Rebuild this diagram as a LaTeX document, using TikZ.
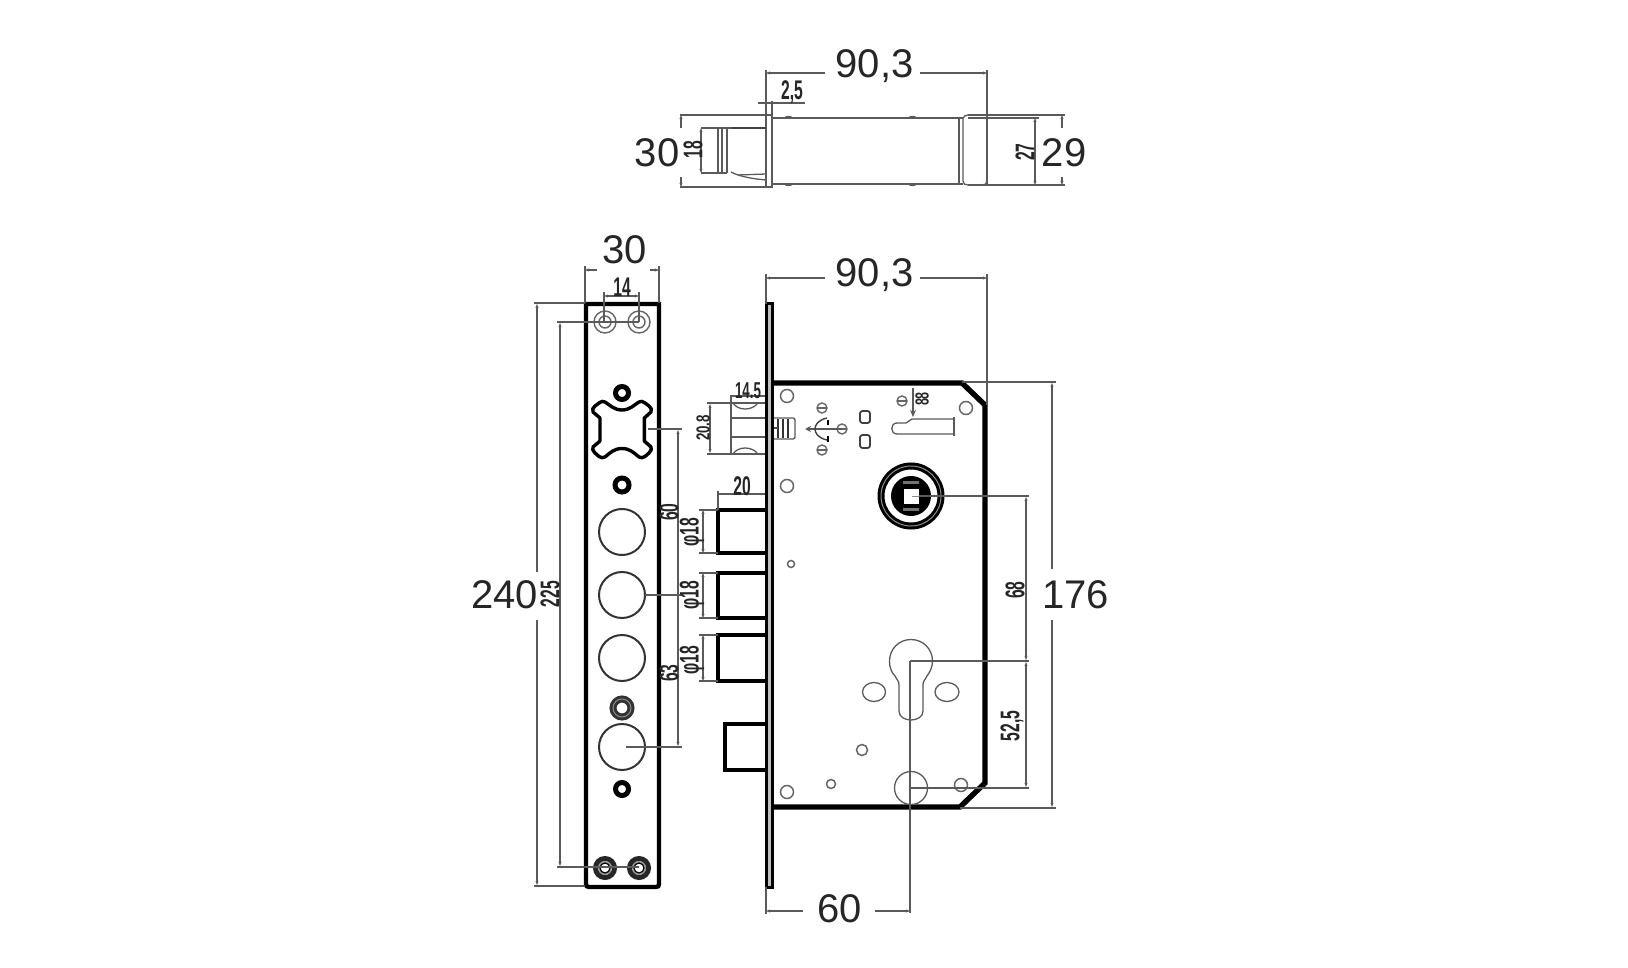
\documentclass[tikz,border=0pt]{standalone}
\usepackage{graphicx}
\usepackage{fontspec}
\setmainfont{Liberation Sans}
\usetikzlibrary{arrows.meta}
\newcommand{\condtxt}[1]{\scalebox{0.58}[1]{\fontsize{27}{27}\selectfont\bfseries #1}}
\definecolor{dimgrey}{HTML}{5A5A5A}
\tikzset{
  x=1pt,y=-1pt,
  dimline/.style={draw=dimgrey,line width=1.1pt},
  tipped/.style={dimline,{Stealth[length=4pt,width=3pt]}-{Stealth[length=4pt,width=3pt]}},
  tipstart/.style={dimline,{Stealth[length=4pt,width=3pt]}-},
  tipend/.style={dimline,-{Stealth[length=4pt,width=3pt]}},
  thin part/.style={draw=dimgrey,line width=1.3pt},
  heavy/.style={draw=black,line width=4.3pt,line join=miter},
  big/.style={inner sep=0pt,font=\fontsize{40}{40}\selectfont,text=black!85},
  small/.style={inner sep=0pt,text=black!85},
  upright small/.style={small,rotate=90},
  knob/.style={draw=black,line width=5pt},
  holecirc/.style={draw=black!80,line width=2pt}
}
\begin{document}
\begin{tikzpicture}
\useasboundingbox[fill=white] (0,0) rectangle (1628,968);

% ---------- top view ----------
\draw[thin part,line width=1.6pt] (766,115) rectangle (772,187);
\draw[thin part] (772,118) -- (963,118) (772,184) -- (963,184);
\draw[thin part] (784,118) .. controls (787,116) and (790,116) .. (793,118);
\draw[thin part] (908,118) .. controls (911,116) and (914,116) .. (917,118);
\draw[thin part] (784,184) .. controls (787,186) and (790,186) .. (793,184);
\draw[thin part] (908,184) .. controls (911,186) and (914,186) .. (917,184);
\draw[thin part] (959,118) -- (959,184);
\draw[thin part] (963,118) -- (963,181) .. controls (963,184) and (965,185) .. (968,185) -- (982,185) .. controls (985,185) and (987,184) .. (987,181);
\draw[thin part] (963,118) .. controls (964,116) and (966,115) .. (968,115);
\draw[dimline] (968,115) -- (1065,115);
\draw[dimline] (968,118) -- (1039,118);
\draw[dimline] (968,185) -- (1065,185);
% bolt
\draw[thin part] (701,128) -- (766,128);
\draw[draw=black!75,line width=2pt] (732,128) -- (766,128);
\draw[thin part] (701,173) -- (727,173);
\draw[thin part] (718,128) -- (718,173) (722,128) -- (722,173) (727,128) -- (727,173);
\draw[thin part] (731,172) .. controls (740,177) and (755,179) .. (766,180);
\draw[thin part] (738,175) -- (766,174);
% top view dimensions
\draw[tipstart] (766,73) -- (825,73);
\draw[tipend] (920,73) -- (987,73);
\draw[dimline] (766,70) -- (766,118);
\draw[dimline] (987,70) -- (987,185);
\draw[dimline] (758,103) -- (805,103);
\draw[dimline] (772,101) -- (772,118);
\draw[dimline] (680,115) -- (766,115);
\draw[dimline] (680,187) -- (766,187);
\draw[tipstart] (681,115) -- (681,128);
\draw[tipstart] (681,187) -- (681,177);
\draw[tipped] (701,128) -- (701,173);
\draw[tipped] (1035,118) -- (1035,185);
\draw[tipstart] (1062,115) -- (1062,128);
\draw[tipstart] (1062,185) -- (1062,177);
\node[big] (t903a) at (874.5,66.5) {90,3};
\node[small] (t25) at (792,92) {\condtxt{2,5}};
\node[big] (t30a) at (657,153) {30};
\node[big] (t29) at (1064,153) {29};
\node[upright small] (t18) at (693,150) {\condtxt{18}};
\node[upright small] (t27) at (1025,152) {\condtxt{27}};

% ---------- front plate ----------
\draw[heavy] (586,304) -- (659,304) -- (659,884) .. controls (659,886) and (658,887) .. (656,887) -- (589,887) .. controls (587,887) and (586,886) .. (586,884) -- cycle;
% screws top
\foreach \sx in {605,639}{
  \draw[draw=black!60,line width=1.4pt] (\sx,322) circle[radius=11];
  \draw[draw=black!60,line width=1.4pt] (\sx,322) circle[radius=6];
  \draw[draw=black!85,line width=5pt] (\sx,868) circle[radius=9.5];
  \fill[black!40] (\sx,868) circle[radius=7];
  \draw[draw=black,line width=1.2pt,fill=white] (\sx,868) circle[radius=5];
}
% knobs
\draw[knob] (622,393) circle[radius=6.5];
\draw[knob] (622,485) circle[radius=7];
\draw[draw=black!80,line width=7pt] (622,708) circle[radius=9];
\draw[draw=black!45,line width=1pt] (622,708) circle[radius=9];
\draw[knob] (622,789) circle[radius=6.5];
% large holes
\foreach \cy in {532,595,658,747}{\draw[holecirc] (622,\cy) circle[radius=23];}
% spindle hole
\draw[draw=black,line width=3.4pt,line join=round]
 (593,412) .. controls (592,409) and (593,408) .. (595,406)
 -- (599,403) .. controls (601,401) and (603,401) .. (605,402)
 .. controls (610,405) and (614,410) .. (622,410)
 .. controls (630,410) and (634,405) .. (639,402)
 .. controls (641,401) and (643,401) .. (645,403)
 -- (649,406) .. controls (651,408) and (652,409) .. (651,412)
 -- (644.3,418) -- (644.3,441)
 -- (651,447) .. controls (652,449) and (651,451) .. (649,453)
 -- (645,456.5) .. controls (643,458) and (641,458) .. (639,457)
 .. controls (634,453) and (630,448.5) .. (622,448.5)
 .. controls (614,448.5) and (610,453) .. (605,457)
 .. controls (603,458) and (601,458) .. (599,456.5)
 -- (595,453) .. controls (593,451) and (592,449) .. (593,447)
 -- (600,441) -- (600,418) -- cycle;
% front plate dimensions
\draw[dimline] (585,266) -- (585,303) (659,266) -- (659,303);
\draw[tipstart] (585,270) -- (597,270);
\draw[tipstart] (659,270) -- (650,270);
\draw[tipped] (604,296) -- (639,296);
\draw[dimline] (604,292) -- (604,322) (639,292) -- (639,322);
\draw[dimline] (534,303) -- (585,303);
\draw[dimline] (557,322) -- (639,322);
\draw[dimline] (534,886) -- (585,886);
\draw[dimline] (557,867) -- (639,867);
\draw[tipstart] (537,304) -- (537,572);
\draw[tipstart] (537,885) -- (537,620);
\draw[tipped] (560,323) -- (560,866);
\draw[dimline] (648,429) -- (682,429);
\draw[dimline] (645,595) -- (682,595);
\draw[dimline] (626,747) -- (682,747);
\draw[tipped] (678,430) -- (678,746);
\node[big] (t30b) at (624.5,250) {30};
\node[big] (t240) at (504.5,595) {240};
\node[small] (t14) at (622,287) {\condtxt{14}};
\node[upright small] (t225) at (550,594) {\condtxt{225}};
\node[upright small] (t60b) at (669,512) {\condtxt{60}};
\node[upright small] (t63) at (669,673) {\condtxt{63}};

% ---------- bolts ----------
\draw[heavy] (765,510) -- (718,510) -- (718,553) -- (765,553);
\draw[heavy] (765,573) -- (718,573) -- (718,618) -- (765,618);
\draw[heavy] (765,635) -- (718,635) -- (718,681) -- (765,681);
\draw[heavy] (765,724) -- (725,724) -- (725,770) -- (765,770);
\draw[dimline] (718,494) -- (765,494);
\draw[dimline] (718,491) -- (718,510);
\draw[tipped] (703,510) -- (703,553);
\draw[tipped] (703,573) -- (703,618);
\draw[tipped] (703,635) -- (703,681);
\draw[dimline] (699,510) -- (718,510) (699,553) -- (718,553);
\draw[dimline] (699,573) -- (718,573) (699,618) -- (718,618);
\draw[dimline] (699,635) -- (718,635) (699,681) -- (718,681);
\node[small] (t20) at (742,486) {\condtxt{20}};
\node[upright small] (tp1) at (692,532) {\condtxt{φ18}};
\node[upright small] (tp2) at (692,595) {\condtxt{φ18}};
\node[upright small] (tp3) at (692,660) {\condtxt{φ18}};

% ---------- latch ----------
\draw[thin part] (731,395) -- (731,455);
\draw[thin part] (710,403) -- (765,403) (710,454) -- (765,454);
\draw[thin part] (731,418) -- (765,418) (731,437) -- (765,437);
\draw[thin part] (733,403) .. controls (738,411) and (752,411) .. (758,403);
\draw[thin part] (733,454) .. controls (738,446) and (752,446) .. (758,454);
\draw[dimline] (731,396) -- (765,396);
\draw[tipped] (710,404) -- (710,453);
\draw[dimline] (707,403) -- (731,403) (707,454) -- (731,454);
\node[small] (t145) at (748,391) {\scalebox{0.85}[0.85]{\condtxt{14.5}}};
\node[upright small] (t208) at (703,428) {\scalebox{0.85}[0.7]{\condtxt{20.8}}};
\draw[thin part,rounded corners=2pt] (773,418) -- (795,418) -- (795,439) -- (773,439);
\draw[draw=black!80,line width=1.6pt] (778,419) -- (778,438) (783,419) -- (783,438) (788,419) -- (788,438);
\draw[draw=black!70,line width=1.3pt] (773,428) -- (778,428);

% ---------- case ----------
\draw[draw=black,line width=3pt,fill=white!75!black] (766,304) rectangle (772,887);
\draw[draw=black,line width=5.4pt,line join=miter] (773,383) -- (962,383) -- (985,405) -- (985,783) -- (960,807) -- (773,807);
% case holes
\foreach \hx/\hy/\hr in {787/396/6.5,787/486/6.5,791/564/3.5,966/408/6.5,862/750/5.5,831/784/4.5,787/792/6.5,961/785/6.5}{
  \draw[draw=black!60,line width=1.5pt] (\hx,\hy) circle[radius=\hr];
}
\draw[thin part] (911,788) circle[radius=16.5];
% keyhole
\draw[thin part] (899,711) -- (899,685) .. controls (899,681) and (897,680) .. (895,676)
  .. controls (891,672) and (889.5,667) .. (889.5,661)
  .. controls (889.5,649) and (899,639.5) .. (911,639.5)
  .. controls (923,639.5) and (932.5,649) .. (932.5,661)
  .. controls (932.5,667) and (930,672) .. (927,676)
  .. controls (925,680) and (923,681) .. (923,685)
  -- (923,711) .. controls (923,717) and (917,720) .. (911,720)
  .. controls (905,720) and (899,717) .. (899,711) -- cycle;
\draw[thin part] (874,692) ellipse[x radius=11.5,y radius=9.5];
\draw[thin part] (947,692) ellipse[x radius=12,y radius=9.5];
% hub
\draw[draw=black,line width=7pt] (911,496) circle[radius=30];
\draw[draw=black!45,line width=1pt] (911,496) circle[radius=30];
\fill[black] (911,496) circle[radius=20];
\fill[black!55] (903,481) rectangle (919,484);
\fill[black!55] (903,508) rectangle (919,511);
\fill[white] (903.5,488.5) rectangle (918.5,503.5);
\draw[draw=black!45,line width=1pt] (912,496) -- (918.5,496);
% screw symbols
\foreach \sx/\sy in {822/408,842/429,822/450,902/401}{
  \draw[draw=black!60,line width=1.4pt] (\sx,\sy) circle[radius=5];
  \draw[draw=black!60,line width=1.2pt] (\sx-4,\sy) -- (\sx+4,\sy);
}
\draw[dimline,-{Stealth[length=6pt,width=6pt]}] (842,429) -- (805,429);
\draw[draw=black!75,line width=1.4pt] (827,418) .. controls (818,420) and (815,425) .. (815,429) .. controls (815,433) and (818,438) .. (827,440);
\draw[draw=black,line width=1.4pt] (828,420) -- (828,425);
\draw[draw=black,line width=1.8pt] (828,436) -- (828,442);
\draw[draw=black!75,line width=1.8pt,rounded corners=2.5pt] (860,411) rectangle (870,423);
\draw[draw=black!75,line width=1.8pt,rounded corners=2.5pt] (860,435) rectangle (870,448);
% slot
\draw[tipend,-{Stealth[length=7pt,width=6pt]}] (913,388) -- (913,417);
\draw[thin part] (955,419) -- (912,419) -- (906,423) -- (897,423) .. controls (890,423) and (890,434) .. (897,434) -- (955,434);
\draw[dimline] (954,417) -- (954,436);
\node[small] (t88) at (922,399) {\rotatebox{90}{\scalebox{0.8}[0.7]{\condtxt{88}}}};

% case dimensions
\draw[tipstart] (766,278) -- (825,278);
\draw[tipend] (920,278) -- (987,278);
\draw[dimline] (766,274) -- (766,304);
\draw[dimline] (987,274) -- (987,405);
\draw[dimline] (962,382) -- (1056,382);
\draw[dimline] (960,808) -- (1056,808);
\draw[tipstart] (1052,383) -- (1052,569);
\draw[tipstart] (1052,807) -- (1052,620);
\draw[dimline] (918.5,496) -- (1029,496);
\draw[dimline] (910,661) -- (1029,661);
\draw[dimline] (910,788) -- (1029,788);
\draw[tipped] (1026,497) -- (1026,660);
\draw[tipped] (1026,662) -- (1026,787);
\draw[dimline] (910,661) -- (910,913);
\draw[dimline] (766,887) -- (766,914);
\draw[tipstart] (766,911) -- (803,911);
\draw[tipstart] (910,911) -- (875,911);
\node[big] (t903b) at (874.5,275) {90,3};
\node[big] (t176) at (1075.5,595) {176};
\node[big] (t60c) at (839.5,909) {60};
\node[upright small] (t68) at (1015,590) {\condtxt{68}};
\node[upright small] (t525) at (1012,726) {\condtxt{52,5}};
\end{tikzpicture}
\end{document}
